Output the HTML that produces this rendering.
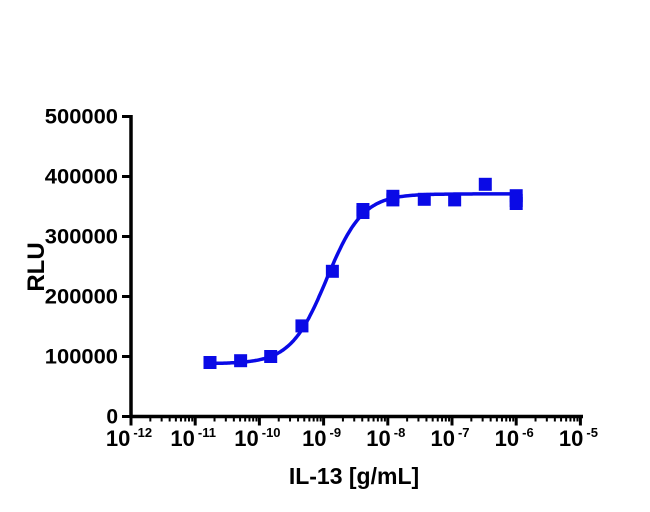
<!DOCTYPE html>
<html><head><meta charset="utf-8"><style>
html,body{margin:0;padding:0;background:#fff}
svg{display:block;font-family:"Liberation Sans",Arial,sans-serif;font-weight:bold}
</style></head><body>
<svg id="chart" width="650" height="512" viewBox="0 0 650 512">
<g id="axes"></g><g id="marks"></g>
</svg>
<script>
const concentrations=[1.7e-11,5.1e-11,1.5e-10,4.6e-10,1.37e-9,4.1e-9,1.2e-8,3.7e-8,1.1e-7,3.3e-7,1e-6];
const rluValues=[90000,93000,100000,151000,242000,340000,361000,362000,361000,387000,360000];
const rluReplicates=[[],[],[],[],[],[345000],[367000],[],[],[],[368000,355000]];
const fitBottom=[88000];const fitTop=[371000];const fitEC50=[1.12e-9];const fitHill=[1.55];
const yTicks=[0,100000,200000,300000,400000,500000];
const xDecades=[-12,-11,-10,-9,-8,-7,-6,-5];

const NS="http://www.w3.org/2000/svg";
const X0=131,DEC=64.2,Y0=416.5,YS=60/100000;
function xs(v){return X0+(Math.log10(v)+12)*DEC;}
function ys(v){return Y0-v*YS;}
function mk(tag,attrs,parent){const e=document.createElementNS(NS,tag);for(const k in attrs)e.setAttribute(k,attrs[k]);parent.appendChild(e);return e;}
const axes=document.getElementById('axes'),marks=document.getElementById('marks');

let yl=mk('line',{x1:X0,y1:ys(500000)-1.5,x2:X0,y2:Y0+1.5,stroke:'#000','stroke-width':3.5},axes);


let xl=mk('line',{x1:X0-1.5,y1:Y0,x2:583,y2:Y0,stroke:'#000','stroke-width':3.5},axes);



yTicks.forEach(v=>{
  const t=mk('line',{x1:X0-9,y1:ys(v),x2:X0,y2:ys(v),stroke:'#000','stroke-width':3},axes);
  
  
  const s=String(v);
  const attrs={x:118,y:ys(v)+7,'text-anchor':'end','font-size':21};
  if(s.length>1){attrs.textLength=s.length*12.2;attrs.lengthAdjust='spacingAndGlyphs';}
  const tx=mk('text',attrs,axes);
  tx.textContent=s;
  
  
});

xDecades.forEach((d,i)=>{
  const x=xs(Math.pow(10,d));
  const t=mk('line',{x1:x,y1:Y0,x2:x,y2:Y0+9,stroke:'#000','stroke-width':3},axes);
  
  
  if(i<xDecades.length-1){
    for(let m=2;m<=9;m++){
      const mx=xs(m*Math.pow(10,d));
      const mt=mk('line',{x1:mx,y1:Y0,x2:mx,y2:Y0+5,stroke:'#000','stroke-width':2},axes);
      
      
    }
  }
  const tx=mk('text',{x:x-2,y:446,'text-anchor':'middle','font-size':22},axes);
  
  
  const a=mk('tspan',{},tx);a.textContent='10';
  const b=mk('tspan',{'font-size':13,dy:-9,dx:3},tx);b.textContent=String(d);
});

const yt=mk('text',{x:0,y:0,transform:'translate(44,267) rotate(-90)','text-anchor':'middle','font-size':24},axes);
yt.textContent='RLU';


const xt=mk('text',{x:354,y:484,'text-anchor':'middle','font-size':23},axes);
xt.textContent='IL-13 [g/mL]';



let pts=[];
for(let lx=Math.log10(concentrations[0]);lx<=Math.log10(concentrations[concentrations.length-1])+1e-9;lx+=0.02){
  const c=Math.pow(10,lx);
  const y=fitBottom[0]+(fitTop[0]-fitBottom[0])/(1+Math.pow(fitEC50[0]/c,fitHill[0]));
  pts.push(xs(c).toFixed(1)+','+ys(y).toFixed(1));
}
const curve=mk('polyline',{points:pts.join(' '),fill:'none',stroke:'#0a0ae6','stroke-width':3.5},marks);



function square(c,v){
  const s=mk('rect',{x:xs(c)-6.5,y:ys(v)-6.5,width:13,height:13,fill:'#0a0ae6'},marks);
  
  
}
concentrations.forEach((c,i)=>{
  square(c,rluValues[i]);
  rluReplicates[i].forEach(v=>square(c,v));
});
</script>
</body></html>
